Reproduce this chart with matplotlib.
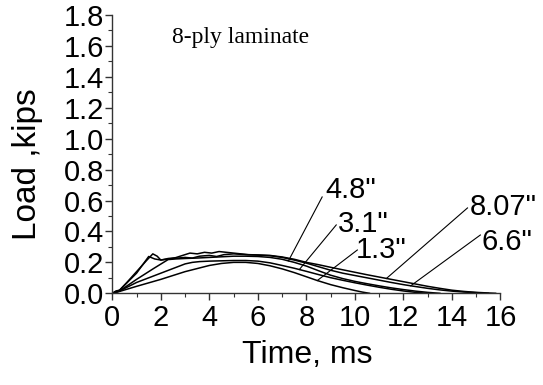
import numpy as np
import matplotlib
matplotlib.use("Agg")
import matplotlib.pyplot as plt
from matplotlib.ticker import MultipleLocator, FormatStrFormatter

plt.rcParams['font.family'] = ['Liberation Sans', 'DejaVu Sans']

# Load-time histories for the 8-ply laminate at each impact height
t_807 = [0, 0.15, 0.3, 0.6, 1.0, 1.4, 1.67, 1.85, 2.0, 2.3, 2.6, 2.9, 3.2, 3.5,
         3.8, 4.1, 4.4, 4.7, 5.0, 5.3, 5.6, 6.0, 6.5, 7.0, 7.5, 8.0, 8.5, 9.0,
         9.5, 10.0, 10.5, 11.0, 11.5, 12.0, 12.5, 13.0, 13.5, 14.0, 14.5, 15.0,
         15.5, 15.8]
p_807 = [0, 0.015, 0.02, 0.07, 0.14, 0.21, 0.255, 0.24, 0.215, 0.225, 0.23,
         0.245, 0.26, 0.255, 0.265, 0.26, 0.27, 0.265, 0.26, 0.255, 0.25, 0.248,
         0.245, 0.235, 0.22, 0.2, 0.185, 0.168, 0.152, 0.136, 0.12, 0.105, 0.09,
         0.075, 0.06, 0.045, 0.032, 0.02, 0.012, 0.006, 0.002, 0]

t_66 = [0, 0.3, 1.0, 1.5, 1.75, 2.0, 2.5, 3.0, 3.3, 3.6, 4.0, 4.3, 4.6, 5.0,
        5.5, 6.0, 6.5, 7.0, 7.5, 8.0, 8.5, 9.0, 9.5, 10.0, 10.5, 11.0, 11.5,
        12.0, 12.36, 13.0, 13.5, 14.0, 14.5, 15.0, 15.5]
p_66 = [0, 0.02, 0.13, 0.238, 0.222, 0.215, 0.225, 0.232, 0.228, 0.24, 0.245,
        0.238, 0.25, 0.255, 0.25, 0.247, 0.243, 0.232, 0.215, 0.195, 0.172,
        0.149, 0.13, 0.115, 0.1, 0.085, 0.07, 0.056, 0.047, 0.032, 0.022,
        0.014, 0.008, 0.004, 0]

t_48 = [0, 0.3, 1.0, 1.7, 2.3, 2.6, 3.0, 3.5, 4.0, 4.5, 5.0, 5.5, 6.0, 6.5,
        7.0, 7.5, 8.0, 8.5, 9.0, 9.5, 10.0, 10.5, 11.0, 11.5, 12.0, 12.5,
        13.0, 13.5]
p_48 = [0, 0.015, 0.09, 0.16, 0.218, 0.222, 0.225, 0.228, 0.232, 0.236, 0.24,
        0.24, 0.238, 0.232, 0.22, 0.2, 0.176, 0.146, 0.117, 0.095, 0.077,
        0.062, 0.048, 0.035, 0.024, 0.014, 0.006, 0]

t_31 = [0, 0.3, 1.0, 2.0, 3.0, 3.3, 3.6, 4.0, 4.5, 5.0, 5.5, 6.0, 6.5, 7.0,
        7.5, 8.0, 8.5, 9.0, 9.5, 10.0, 10.5, 11.0, 11.5, 12.0, 12.5, 13.0]
p_31 = [0, 0.015, 0.07, 0.13, 0.19, 0.2, 0.205, 0.208, 0.21, 0.212, 0.212,
        0.208, 0.197, 0.18, 0.162, 0.142, 0.121, 0.101, 0.084, 0.068, 0.053,
        0.039, 0.026, 0.015, 0.006, 0]

t_13 = [0, 0.3, 1.0, 2.0, 3.0, 4.0, 4.5, 5.0, 5.5, 6.0, 6.5, 7.0, 7.5, 8.0,
        8.44, 9.0, 9.5, 10.0, 10.3, 10.6]
p_13 = [0, 0.012, 0.045, 0.09, 0.14, 0.18, 0.193, 0.2, 0.2, 0.193, 0.178,
        0.158, 0.134, 0.107, 0.083, 0.056, 0.036, 0.018, 0.008, 0]

curve_labels = ['4.8"', '3.1"', '1.3"', '8.07"', '6.6"']
label_times = [7.26, 7.71, 8.45, 11.3, 12.3]

fig = plt.figure(figsize=(5.43, 3.85), dpi=100)
ax = fig.add_axes([0.2068, 0.2382, 0.7149, 0.7229])

curves = {
    '8.07"': (t_807, p_807),
    '6.6"': (t_66, p_66),
    '4.8"': (t_48, p_48),
    '3.1"': (t_31, p_31),
    '1.3"': (t_13, p_13),
}
for name, (tt, pp) in curves.items():
    ax.plot(tt, pp, color='black', lw=1.1)

# Leader lines and curve labels
text_pos = {
    '4.8"': (9.81, 0.616),
    '3.1"': (10.35, 0.395),
    '1.3"': (11.09, 0.226),
    '8.07"': (16.12, 0.506),
    '6.6"': (16.25, 0.280),
}
leader_start = {
    '4.8"': (8.65, 0.623),
    '3.1"': (9.23, 0.442),
    '1.3"': (10.10, 0.280),
    '8.07"': (14.64, 0.552),
    '6.6"': (15.17, 0.377),
}
for name, tl in zip(curve_labels, label_times):
    tt, pp = curves[name]
    yl = np.interp(tl, tt, pp)
    x0, y0 = leader_start[name]
    ax.plot([x0, tl], [y0, yl], color='black', lw=0.8, clip_on=False)
    tx, ty = text_pos[name]
    ax.text(tx, ty, name, fontsize=21, ha='center', va='baseline')

ax.set_xlim(0, 16)
ax.set_ylim(0, 1.8)
ax.xaxis.set_major_locator(MultipleLocator(2))
ax.xaxis.set_minor_locator(MultipleLocator(1))
ax.yaxis.set_major_locator(MultipleLocator(0.2))
ax.yaxis.set_minor_locator(MultipleLocator(0.1))
ax.yaxis.set_major_formatter(FormatStrFormatter('%.1f'))
ax.xaxis.set_major_formatter(FormatStrFormatter('%d'))

for s in ['top', 'right']:
    ax.spines[s].set_visible(False)
for s in ['left', 'bottom']:
    ax.spines[s].set_linewidth(1.0)
    ax.spines[s].set_color('#333333')

ax.tick_params(axis='both', which='major', direction='out', length=5,
               width=1.0, color='#333333', labelsize=21)
ax.tick_params(axis='both', which='minor', direction='out', length=3,
               width=0.8, color='#333333')
ax.tick_params(axis='x', which='major', pad=3)
ax.tick_params(axis='y', which='major', pad=1)

fig.text(307 / 543, 1 - 355 / 385, 'Time, ms', fontsize=23,
         ha='center', va='center')
fig.text(28 / 543, 1 - 164 / 385, 'Load ,kips', fontsize=24,
         ha='center', va='center', rotation=90)
fig.text(172 / 543, 1 - 43 / 385, '8-ply laminate', fontsize=17,
         family='Liberation Serif', ha='left', va='baseline')

fig.savefig('out.png', dpi=100)
